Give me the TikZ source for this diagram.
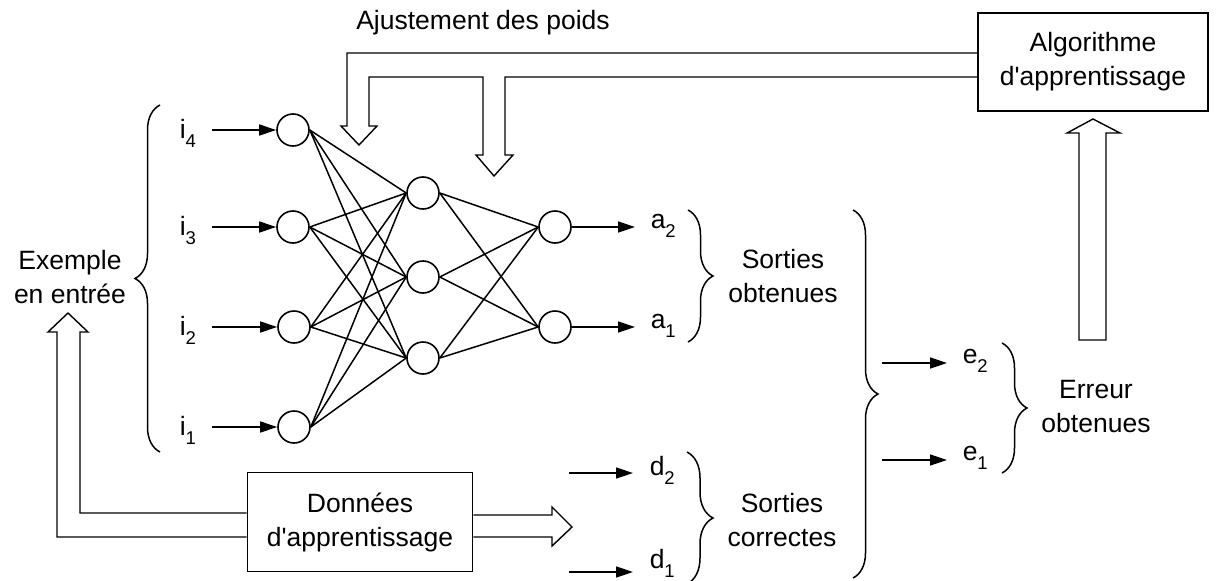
\documentclass[tikz,border=0pt]{standalone}
\usepackage{fontspec}
\setmainfont{Liberation Sans}
\usetikzlibrary{arrows.meta,decorations.pathreplacing,calc}
\newcommand{\lblsub}[2]{#1\raisebox{-9pt}{\fontsize{18.5}{18.5}\selectfont #2}}
\newcommand{\apos}{\textquotesingle}
\begin{document}
\begin{tikzpicture}[x=1pt,y=-1pt, line width=1.5pt,
  every node/.style={font=\fontsize{26.5}{34}\selectfont, inner sep=0pt},
  neuron/.style={circle,draw,minimum size=32pt,inner sep=0pt,line width=1.6pt},
  box/.style={draw,rectangle,align=center,line width=1.7pt},
  txt/.style={align=center},
  lbl/.style={anchor=base west},
  arr/.style={-{Triangle[length=17pt,width=11pt]}},
  hollow/.style={line width=1.4pt, line join=miter},
  brc/.style={decorate,decoration={brace,amplitude=#1}}]
\useasboundingbox (0,0) rectangle (1216,581);

% neurons
\node[neuron] (n4) at (293,130) {};
\node[neuron] (n3) at (293,227) {};
\node[neuron] (n2) at (294,327) {};
\node[neuron] (n1) at (294,427) {};
\node[neuron] (h1) at (423,193) {};
\node[neuron] (h2) at (423,277) {};
\node[neuron] (h3) at (423,358) {};
\node[neuron] (o2) at (555,227) {};
\node[neuron] (o1) at (555,327) {};

\foreach \a in {n1,n2,n3,n4}{\foreach \b in {h1,h2,h3}{\draw (\a.east) -- (\b.west);}}
\foreach \a in {h1,h2,h3}{\foreach \b in {o1,o2}{\draw (\a.east) -- (\b.west);}}

% input arrows and labels
\foreach \k/\y in {4/130,3/227,2/327,1/427}{
  \coordinate (in\k) at (212,\y);
  \draw[arr] (in\k) -- (n\k.west);
  \node[lbl] (li\k) at (179,\y+8) {\lblsub{i}{\k}};
}
% output arrows
\coordinate (oa2) at (635,227);
\coordinate (oa1) at (635,327);
\draw[arr] (o2.east) -- (oa2);
\draw[arr] (o1.east) -- (oa1);
\node[lbl] (la2) at (650,228) {\lblsub{a}{2}};
\node[lbl] (la1) at (650,328) {\lblsub{a}{1}};

% desired outputs
\coordinate (sd2) at (569,473); \coordinate (ed2) at (633,473);
\coordinate (sd1) at (569,572); \coordinate (ed1) at (633,572);
\draw[arr] (sd2) -- (ed2);
\draw[arr] (sd1) -- (ed1);
\node[lbl] (ld2) at (649,475) {\lblsub{d}{2}};
\node[lbl] (ld1) at (649,568) {\lblsub{d}{1}};

% errors
\coordinate (se2) at (882,363); \coordinate (ee2) at (947,363);
\coordinate (se1) at (882,460); \coordinate (ee1) at (947,460);
\draw[arr] (se2) -- (ee2);
\draw[arr] (se1) -- (ee1);
\node[lbl] (le2) at (962,363) {\lblsub{e}{2}};
\node[lbl] (le1) at (962,460) {\lblsub{e}{1}};

% braces
\draw[brc=25] (160,452) -- (160,105);
\draw[brc=25] (688,210) -- (688,342);
\draw[brc=26] (687,452) -- (687,584);
\draw[brc=25] (853,210) -- (853,578);
\draw[brc=25] (1002,343) -- (1002,473);

% texts
\node[txt] (ex) at (70,277) {Exemple\\en entrée};
\node[txt] (so) at (783,276) {Sorties\\obtenues};
\node[txt] (sc) at (782,520) {Sorties\\correctes};
\node[txt] (er) at (1096,407) {Erreur\\obtenues};
\node (aj) at (483,23) {Ajustement des poids};

% boxes
\node[box,minimum width=225pt,minimum height=99pt] (don) at (360,522) {Données\\d\apos apprentissage};
\node[box,minimum width=230pt,minimum height=98pt] (alg) at (1093,62) {Algorithme\\d\apos apprentissage};

% hollow arrows
\draw[hollow] (alg.west |- 0,53) -- (347,53) -- (347,126) -- (341,126) -- (359,145) -- (377,126) -- (369,126) -- (369,77) -- (483,77) -- (483,155) -- (476,155) -- (494,176) -- (513,155) -- (505,155) -- (505,77) -- (alg.west |- 0,77);
\draw[hollow] (1079,340) -- (1079,133) -- (1067,133) -- (alg.south |- 0,119) -- (1120,133) -- (1106,133) -- (1106,340) -- cycle;
\draw[hollow] (don.west |- 0,537) -- (57,537) -- (57,332) -- (48,332) -- (68,313) -- (88,332) -- (80,332) -- (80,513) -- (don.west |- 0,513);
\draw[hollow] (don.east |- 0,515) -- (552,515) -- (552,507) -- (572,527) -- (552,546) -- (552,537) -- (don.east |- 0,537);
\end{tikzpicture}
\end{document}
